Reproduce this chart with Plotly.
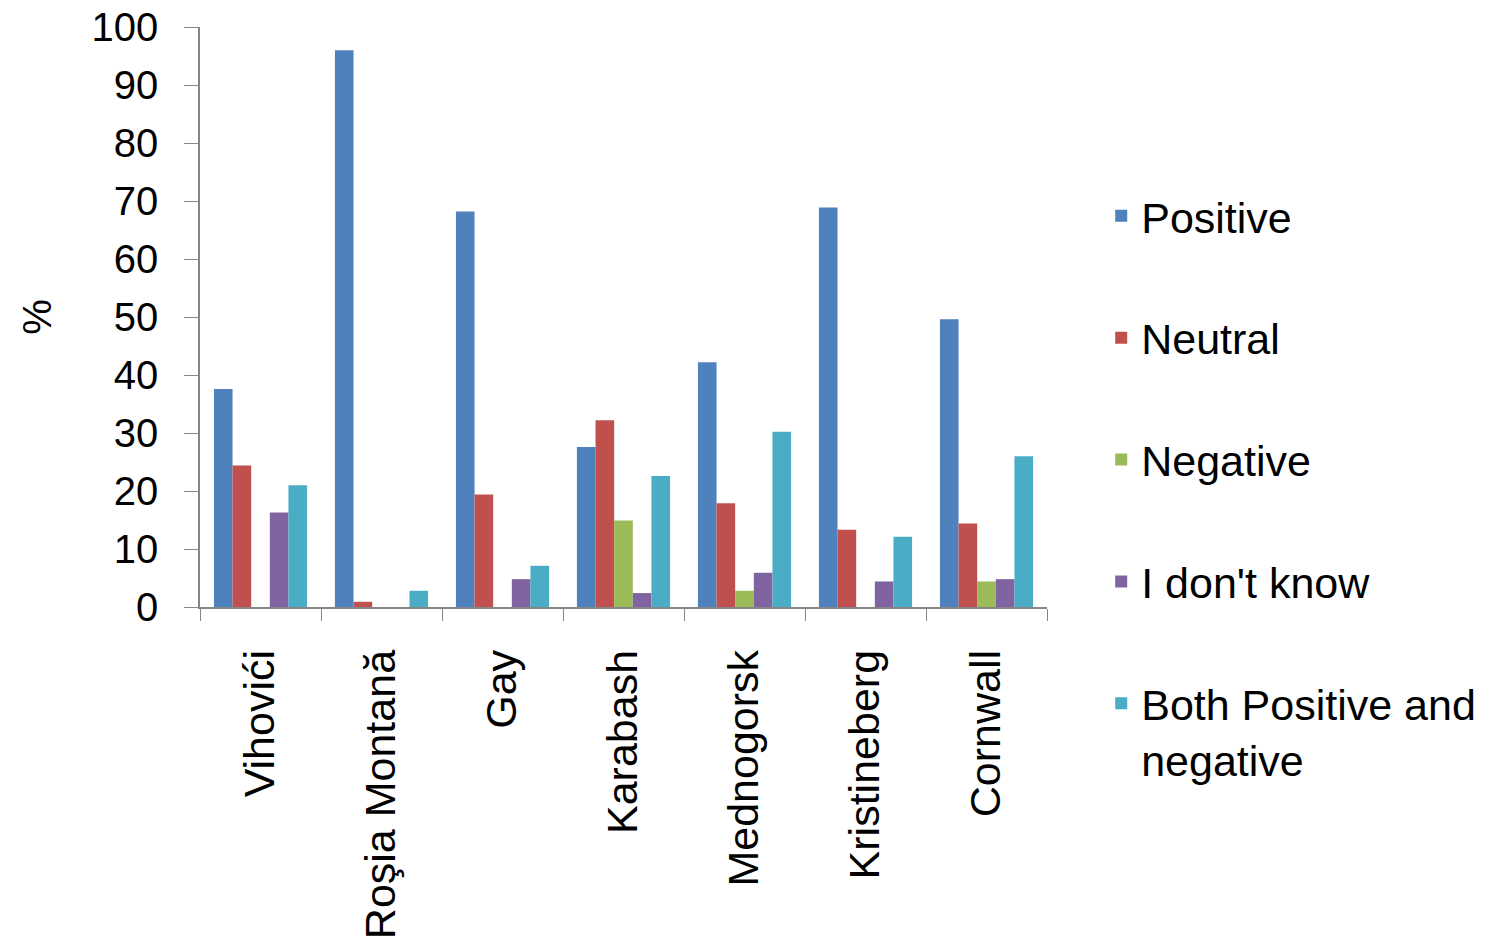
import plotly.graph_objects as go

# Survey sites and response shares (%)
sites = ["Vihovići", "Roşia Montană", "Gay", "Karabash", "Mednogorsk", "Kristineberg", "Cornwall"]
positive = [37.6, 96.0, 68.2, 27.6, 42.2, 68.9, 49.6]
neutral = [24.4, 0.9, 19.4, 32.2, 17.9, 13.3, 14.4]
negative = [0.0, 0.0, 0.0, 14.9, 2.8, 0.0, 4.4]
dont_know = [16.3, 0.0, 4.8, 2.4, 5.9, 4.4, 4.8]
both = [21.0, 2.8, 7.1, 22.6, 30.2, 12.1, 26.0]

series = [
    ("Positive", positive, "#4F81BD"),
    ("Neutral", neutral, "#C0504D"),
    ("Negative", negative, "#9BBB59"),
    ("I don't know", dont_know, "#8064A2"),
    ("Both Positive and<br>negative", both, "#4BACC6"),
]

fig = go.Figure()
for i, (name, vals, color) in enumerate(series):
    fig.add_trace(go.Bar(
        x=sites, y=vals, name=name, marker_color=color,
        marker_line_width=0, legendgroup=str(i),
    ))

font = "Liberation Sans, Arial, sans-serif"
axis_grey = "#868686"
fig.update_layout(
    width=1495, height=946,
    margin=dict(l=200, r=448, t=27, b=339, autoexpand=False),
    paper_bgcolor="white", plot_bgcolor="white",
    barmode="group", bargap=0.23, bargroupgap=0,
    font=dict(family=font, size=40, color="black"),
    showlegend=True,
    legend=dict(
        x=1.064, xanchor="left", y=0.734, yanchor="top",
        font=dict(size=43, family=font, color="black"), tracegroupgap=63,
        traceorder="grouped", itemwidth=30, valign="top", maxheight=900,
    ),
    xaxis=dict(
        tickangle=-90, tickson="boundaries", ticks="outside", ticklen=12,
        tickcolor=axis_grey, showline=True, linecolor=axis_grey, linewidth=1.5,
        tickfont=dict(size=43, family=font, color="black"),
        ticklabelstandoff=24, automargin=False,
    ),
    yaxis=dict(
        range=[0, 100], dtick=10, ticks="outside", ticklen=14,
        tickcolor=axis_grey, showline=True, linecolor=axis_grey, linewidth=1.5,
        showgrid=False, zeroline=False,
        tickfont=dict(size=40, family=font, color="black"),
        ticklabelstandoff=18, automargin=False,
        title=dict(text="%", font=dict(size=40, family=font, color="black"), standoff=28),
    ),
)

fig.write_html("out.html")
